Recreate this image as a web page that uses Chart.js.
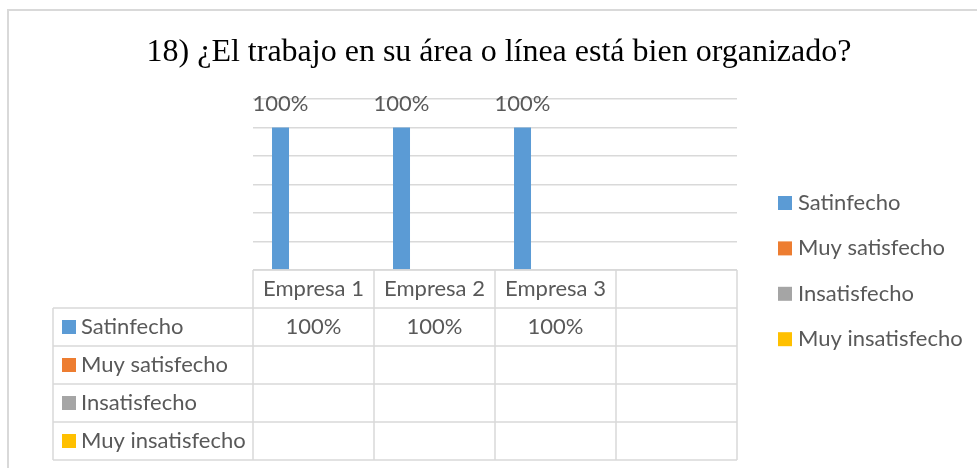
<!DOCTYPE html>
<html>
<head>
<meta charset="utf-8">
<script src="https://cdn.jsdelivr.net/npm/chart.js@4"></script>
<style>
  html, body { margin: 0; padding: 0; background: #fff; }
  #wrap { width: 977px; height: 468px; position: relative; }
</style>
</head>
<body>
<div id="wrap"><canvas id="chart" width="977" height="468"></canvas></div>
<script>
// data
const title = '18) ¿El trabajo en su área o línea está bien organizado?';
const categories = ['Empresa 1', 'Empresa 2', 'Empresa 3', ''];
const seriesNames = ['Satinfecho', 'Muy satisfecho', 'Insatisfecho', 'Muy insatisfecho'];
const satinfecho = [100, 100, 100, null];
const muySatisfecho = [null, null, null, null];
const insatisfecho = [null, null, null, null];
const muyInsatisfecho = [null, null, null, null];
const yTicks = [0, 20, 40, 60, 80, 100, 120];

const colors = ['#5b9bd5', '#ed7d31', '#a5a5a5', '#ffc000'];
const textColor = '#595959';
const lineColor = '#d9d9d9';
const labelFont = '22px Lato';

const allSeries = [satinfecho, muySatisfecho, insatisfecho, muyInsatisfecho];

// frame + title (title drawn here so it isn't squeezed to the plot width)
const framePlugin = {
  id: 'frame',
  beforeDraw(chart) {
    const ctx = chart.ctx;
    ctx.save();
    ctx.strokeStyle = lineColor;
    ctx.lineWidth = 2;
    ctx.beginPath();
    ctx.moveTo(8, chart.height + 5);
    ctx.lineTo(8, 10);
    ctx.lineTo(chart.width + 5, 10);
    ctx.stroke();

    ctx.font = '32px "Liberation Serif"';
    ctx.fillStyle = '#000';
    ctx.textAlign = 'center';
    ctx.textBaseline = 'middle';
    ctx.fillText(title, 499, 53);
    ctx.restore();
  }
};

// "100%" labels above the bars
const barLabels = {
  id: 'barLabels',
  afterDatasetsDraw(chart) {
    const ctx = chart.ctx;
    ctx.save();
    ctx.font = labelFont;
    ctx.fillStyle = textColor;
    ctx.textAlign = 'center';
    ctx.textBaseline = 'middle';
    chart.data.datasets.forEach((ds, i) => {
      chart.getDatasetMeta(i).data.forEach((bar, j) => {
        const v = ds.data[j];
        if (v == null) return;
        ctx.fillText(v + '%', bar.x, bar.y - 24);
      });
    });
    ctx.restore();
  }
};

// data table under the plot + legend on the right
const dataTable = {
  id: 'dataTable',
  afterDraw(chart) {
    const ctx = chart.ctx;
    const xs = chart.scales.x;
    const area = chart.chartArea;
    const rowH = 38;
    const tableLeft = 53;
    const colW = (area.right - area.left) / categories.length;
    const top = area.bottom;
    const nRows = seriesNames.length;

    ctx.save();
    ctx.strokeStyle = lineColor;
    ctx.lineWidth = 1.5;
    ctx.beginPath();
    ctx.moveTo(area.left, top);
    ctx.lineTo(area.right, top);
    for (let r = 1; r <= nRows + 1; r++) {
      const y = top + r * rowH;
      ctx.moveTo(tableLeft, y);
      ctx.lineTo(area.right, y);
    }
    for (let c = 0; c <= categories.length; c++) {
      const x = area.left + c * colW;
      ctx.moveTo(x, top);
      ctx.lineTo(x, top + (nRows + 1) * rowH);
    }
    ctx.moveTo(tableLeft, top + rowH);
    ctx.lineTo(tableLeft, top + (nRows + 1) * rowH);
    ctx.stroke();

    ctx.font = labelFont;
    ctx.fillStyle = textColor;
    ctx.textBaseline = 'middle';
    ctx.textAlign = 'center';
    categories.forEach((c, i) => {
      ctx.fillText(c, xs.getPixelForValue(i), top + rowH / 2);
    });

    seriesNames.forEach((name, r) => {
      const cy = top + rowH * (r + 1.5);
      ctx.fillStyle = colors[r];
      ctx.fillRect(tableLeft + 9, cy - 7, 14, 14);
      ctx.fillStyle = textColor;
      ctx.textAlign = 'left';
      ctx.fillText(name, tableLeft + 28, cy);
      ctx.textAlign = 'center';
      allSeries[r].forEach((v, i) => {
        if (v == null) return;
        ctx.fillText(v + '%', xs.getPixelForValue(i), cy);
      });
    });

    // legend
    const lx = 778;
    seriesNames.forEach((name, r) => {
      const cy = 203 + r * 45.4;
      ctx.fillStyle = colors[r];
      ctx.fillRect(lx, cy - 7, 14, 14);
      ctx.fillStyle = textColor;
      ctx.textAlign = 'left';
      ctx.fillText(name, lx + 20, cy);
    });
    ctx.restore();
  }
};

new Chart(document.getElementById('chart'), {
  type: 'bar',
  data: {
    labels: categories,
    datasets: seriesNames.map((name, i) => ({
      label: name,
      data: allSeries[i],
      backgroundColor: colors[i],
      categoryPercentage: 0.727,
      barPercentage: 0.773
    }))
  },
  options: {
    responsive: false,
    animation: false,
    layout: { padding: { left: 253, right: 240, top: 99, bottom: 198 } },
    plugins: {
      legend: { display: false },
      tooltip: { enabled: false },
      title: { display: false }
    },
    scales: {
      x: { display: false },
      y: {
        min: 0, max: 120,
        afterBuildTicks(scale) { scale.ticks = yTicks.map(v => ({ value: v })); },
        ticks: { display: false },
        grid: { color: lineColor, lineWidth: 1.5, drawTicks: false },
        border: { display: false }
      }
    }
  },
  plugins: [framePlugin, barLabels, dataTable]
});
</script>
</body>
</html>
